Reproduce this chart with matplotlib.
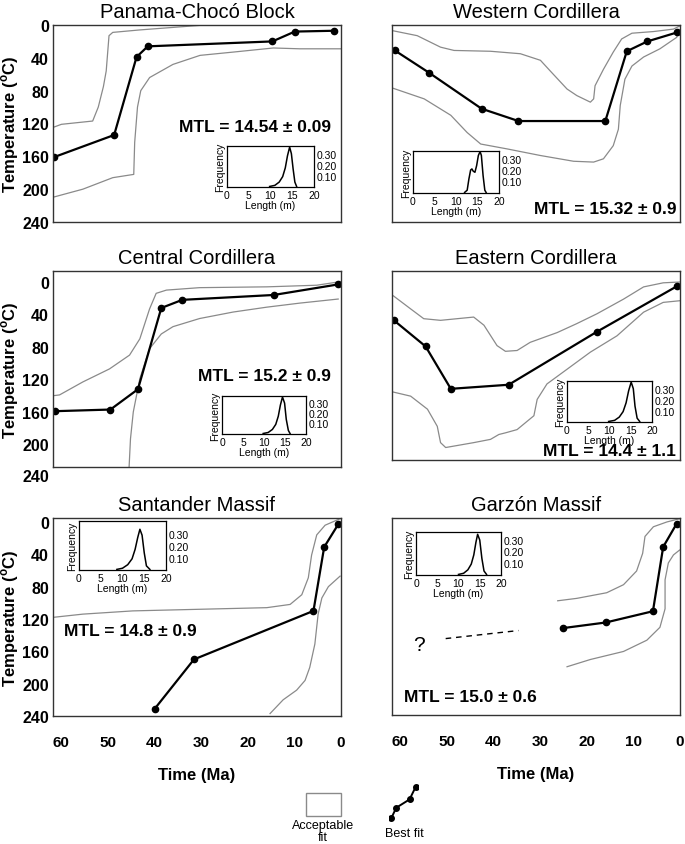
import matplotlib.pyplot as plt
from matplotlib.patches import Rectangle

W, H = 685, 845

# -------- DATA (time in Ma, temperature in C) --------

panama_fit_time = [61.5, 48.6, 43.8, 41.4, 14.7, 9.9, 1.4]
panama_fit_temp = [161, 134, 39, 26, 20, 8, 7]
panama_upper_time = [61.8, 59.9, 53.2, 52.0, 50.9, 50.3, 49.7, 48.9, 43.1, 29.2]
panama_upper_temp = [125, 121, 117, 100, 75, 56, 13, 9, 6, 0]
panama_lower_time = [61.8, 55.3, 48.9, 44.4, 44.2, 43.6, 42.9, 41.0, 36.0, 30.2, 23.1, 14.5, 8.8, 0]
panama_lower_temp = [210, 200, 186, 182, 143, 100, 80, 64, 48, 37, 33, 28, 29, 29]
panama_len = [9.8, 11.0, 12.0, 12.8, 13.4, 13.9, 14.4, 14.8, 15.2, 15.6, 16.0]
panama_freq = [0, 0.01, 0.04, 0.09, 0.17, 0.28, 0.36, 0.30, 0.16, 0.04, 0]

western_fit_time = [61.1, 53.8, 42.5, 34.6, 16.0, 11.4, 7.0, 0.6]
western_fit_temp = [31, 58, 102, 117, 117, 32, 20, 9]
western_upper_time = [61.5, 56.3, 51.3, 48.4, 40.6, 34.2, 29.9, 27.8, 24.2, 22.1, 19.2, 18.5,
                      18.2, 16.4, 14.3, 12.5, 10.3, 5.7, 1.4, 0]
western_upper_temp = [7, 13, 27, 31, 32, 35, 43, 56, 78, 86, 94, 90, 74, 54, 33, 17, 10, 8, 5, 1]
western_lower_time = [61.5, 54.8, 49.1, 45.6, 42.7, 37.0, 29.9, 22.8, 18.5, 16.4, 14.3, 13.2,
                      12.8, 11.8, 10.3, 7.8, 4.3, 0.7, 0.4]
western_lower_temp = [77, 90, 110, 131, 145, 151, 159, 166, 167, 163, 147, 127, 98, 66, 50, 39, 29, 15, 9]
western_len = [12.0, 12.6, 13.0, 13.4, 13.7, 14.0, 14.4, 14.8, 15.2, 15.6, 15.9, 16.3, 16.7, 17.0]
western_freq = [0, 0.02, 0.12, 0.20, 0.21, 0.19, 0.18, 0.24, 0.33, 0.365, 0.33, 0.15, 0.02, 0]

central_fit_time = [61.2, 49.4, 43.5, 38.5, 34.0, 14.4, 0.6]
central_fit_temp = [159, 157, 132, 32, 22, 16, 3]
central_upper_time = [61.7, 60.3, 55.3, 49.6, 45.3, 43.1, 41.0, 39.6, 37.4, 30.3, 15.9, 5.2, 0.6]
central_upper_temp = [140, 139, 123, 107, 90, 70, 33, 14, 10, 7, 6, 4, 0]
central_lower_time = [45.4, 45.1, 44.5, 43.1, 41.0, 38.5, 36.0, 30.3, 23.1, 15.9, 8.8, 0.6]
central_lower_temp = [228, 193, 160, 119, 82, 64, 55, 45, 37, 31, 26, 21]
central_len = [9.8, 11.0, 12.0, 12.8, 13.4, 13.9, 14.4, 14.9, 15.3, 15.8, 16.2]
central_freq = [0, 0.01, 0.04, 0.09, 0.17, 0.28, 0.36, 0.30, 0.14, 0.03, 0]

eastern_fit_time = [61.3, 54.5, 49.1, 36.7, 17.8, 0.6]
eastern_fit_temp = [47, 79, 131, 126, 61, 5]
eastern_upper_time = [61.4, 57.7, 54.9, 51.3, 44.2, 42.0, 39.2, 37.4, 34.9, 32.1, 26.3, 22.1,
                      17.8, 12.1, 7.8, 3.6, 0.1]
eastern_upper_temp = [17, 33, 45, 47, 43, 53, 78, 85, 84, 74, 62, 51, 39, 21, 6, 1, 0]
eastern_lower_time = [61.4, 57.7, 54.1, 52.0, 51.3, 50.2, 44.2, 40.6, 38.8, 37.4, 34.9, 31.3,
                      30.6, 28.5, 24.2, 19.2, 13.5, 7.8, 3.6, 0.1]
eastern_lower_temp = [135, 140, 156, 177, 197, 203, 197, 193, 187, 185, 181, 164, 144, 125,
                      107, 86, 66, 37, 25, 23]
eastern_len = [9.8, 11.2, 12.3, 13.2, 13.9, 14.5, 15.1, 15.6, 16.0, 16.5, 17.1]
eastern_freq = [0, 0.01, 0.04, 0.09, 0.17, 0.28, 0.36, 0.30, 0.14, 0.03, 0]

santander_fit_time = [39.9, 31.5, 5.9, 3.6, 0.6]
santander_fit_temp = [231, 170, 110, 31, 3]
santander_upper_time = [61.7, 55.3, 44.6, 30.3, 15.9, 10.9, 8.4, 7.0, 6.3, 5.2, 3.4, 0.2]
santander_upper_temp = [118, 114, 110, 108, 106, 102, 90, 69, 41, 16, 4, -4]
santander_lower_time = [15.2, 12.4, 9.5, 7.7, 6.7, 5.6, 4.9, 4.1, 2.7, 0.2]
santander_lower_temp = [237, 220, 208, 196, 180, 151, 114, 94, 80, 67]
santander_len = [8.7, 10.0, 11.2, 12.2, 12.9, 13.5, 14.0, 14.5, 15.0, 15.5, 16.3]
santander_freq = [0, 0.01, 0.04, 0.09, 0.17, 0.27, 0.34, 0.29, 0.14, 0.03, 0]

garzon_fit_time = [25.1, 15.9, 5.8, 3.6, 0.7]
garzon_fit_temp = [132, 125, 111, 31, 2]
garzon_dash_time = [50.2, 34.6]
garzon_dash_temp = [145, 135]
garzon_upper_time = [26.2, 22.1, 15.7, 12.1, 9.3, 8.0, 7.5, 5.7, 2.8, 0.1]
garzon_upper_temp = [98, 95, 88, 78, 61, 39, 18, 6, 0, -4]
garzon_lower_time = [24.2, 19.2, 12.1, 7.1, 4.3, 3.2, 3.2, 2.5, 1.4, 0.1]
garzon_lower_temp = [180, 171, 161, 147, 131, 108, 72, 51, 41, 35]
garzon_len = [10.0, 11.2, 12.2, 13.0, 13.6, 14.1, 14.5, 15.0, 15.5, 16.0, 16.6]
garzon_freq = [0, 0.01, 0.04, 0.09, 0.17, 0.28, 0.35, 0.30, 0.14, 0.03, 0]

time_ticks = [60, 50, 40, 30, 20, 10, 0]
temp_ticks = [0, 40, 80, 120, 160, 200, 240]
len_ticks = [0, 5, 10, 15, 20]
freq_ticks = [0.10, 0.20, 0.30]

# legend glyph for the best fit line
legend_icon_x = [0, 0.2, 0.75, 1.0]
legend_icon_y = [0, 0.33, 0.6, 1.0]

plt.rcParams['font.family'] = ['Liberation Sans', 'DejaVu Sans']

GRAY = '#8a8a8a'
FRAME = '#333333'

fig = plt.figure(figsize=(W / 100, H / 100), dpi=100)


def px_axes(x0, y0, x1, y1):
    return fig.add_axes([x0 / W, 1 - y1 / H, (x1 - x0) / W, (y1 - y0) / H])


def panel(box, ylim, title, fit, upper, lower, left=False, bottom=False):
    ax = px_axes(*box)
    ax.plot(upper[0], upper[1], color=GRAY, lw=0.9)
    ax.plot(lower[0], lower[1], color=GRAY, lw=0.9)
    ax.plot(fit[0], fit[1], color='black', lw=1.6, marker='o', ms=4.5)
    ax.set_xlim(61.7, 0)
    ax.set_ylim(*ylim)
    for s in ax.spines.values():
        s.set_color(FRAME)
        s.set_linewidth(1.0)
    ax.set_title(title, fontsize=14.5, pad=6)
    ax.tick_params(length=0)
    if left:
        inside = [t for t in temp_ticks if min(ylim) <= t <= max(ylim)]
        ax.set_yticks(inside)
        ax.set_yticklabels([str(t) for t in inside], fontsize=11.5, fontweight='bold')
        ax.tick_params(axis='y', pad=3)
        for t in temp_ticks:
            if t not in inside:
                ax.annotate(str(t), xy=(0, t), xycoords=('axes fraction', 'data'),
                            xytext=(-3, 0), textcoords='offset points', ha='right',
                            va='center', fontsize=11.5, fontweight='bold',
                            annotation_clip=False)
        ax.set_ylabel(r'Temperature ($^{\mathregular{o}}$C)', fontsize=12,
                      fontweight='bold')
        ax.yaxis.set_label_coords((21 - box[0]) / (box[2] - box[0]), 0.5)
    else:
        ax.set_yticks([])
    if bottom:
        ax.set_xticks(time_ticks)
        ax.set_xticklabels([str(t) for t in time_ticks], fontsize=11, fontweight='bold')
        ax.tick_params(axis='x', pad=14)
        ax.set_xlabel('Time (Ma)', fontsize=12, fontweight='bold', labelpad=13)
    else:
        ax.set_xticks([])
    return ax


def inset(box, lengths, freqs, top=0.37):
    ia = px_axes(*box)
    ia.plot(lengths, freqs, color='black', lw=1.1)
    ia.set_xlim(0, 20)
    ia.set_ylim(-0.005, top)
    ia.set_xticks(len_ticks)
    ia.set_xticklabels([str(t) for t in len_ticks], fontsize=7.5)
    ia.set_yticks(freq_ticks)
    ia.set_yticklabels(['%.2f' % f for f in freq_ticks], fontsize=7.5)
    ia.yaxis.tick_right()
    ia.tick_params(length=0, pad=2)
    ia.set_xlabel('Length (m)', fontsize=7.5, labelpad=0)
    ia.set_ylabel('Frequency', fontsize=7.5, labelpad=1)
    ia.yaxis.set_label_position('left')
    for s in ia.spines.values():
        s.set_linewidth(0.9)
    return ia


def mtl(x, y, text, ha):
    fig.text(x / W, 1 - y / H, text, ha=ha, va='center', fontsize=12.5, fontweight='bold')


# -------- PANELS --------

panel((53, 26, 341, 223), (240, 0), 'Panama-Chocó Block',
      (panama_fit_time, panama_fit_temp), (panama_upper_time, panama_upper_temp),
      (panama_lower_time, panama_lower_temp), left=True)
inset((227, 147, 314, 188), panama_len, panama_freq)
mtl(331, 127, 'MTL = 14.54 ± 0.09', 'right')

panel((392, 26, 680, 223), (240, 0), 'Western Cordillera',
      (western_fit_time, western_fit_temp), (western_upper_time, western_upper_temp),
      (western_lower_time, western_lower_temp))
inset((413, 152, 499, 194), western_len, western_freq)
mtl(676, 210, 'MTL = 15.32 ± 0.9', 'right')

panel((53, 272, 341, 468), (227.7, -13.5), 'Central Cordillera',
      (central_fit_time, central_fit_temp), (central_upper_time, central_upper_temp),
      (central_lower_time, central_lower_temp), left=True)
inset((222, 397, 306, 435), central_len, central_freq)
mtl(331, 377, 'MTL = 15.2 ± 0.9', 'right')

panel((392, 272, 680, 461), (218.3, -13.5), 'Eastern Cordillera',
      (eastern_fit_time, eastern_fit_temp), (eastern_upper_time, eastern_upper_temp),
      (eastern_lower_time, eastern_lower_temp))
inset((567, 382, 652, 423), eastern_len, eastern_freq)
mtl(676, 452, 'MTL = 14.4 ± 1.1', 'right')

panel((53, 519, 341, 717), (240, -4.9), 'Santander Massif',
      (santander_fit_time, santander_fit_temp), (santander_upper_time, santander_upper_temp),
      (santander_lower_time, santander_lower_temp), left=True, bottom=True)
inset((79, 522, 166, 571), santander_len, santander_freq, top=0.41)
mtl(64, 632, 'MTL = 14.8 ± 0.9', 'left')

gax = panel((392, 519, 680, 716), (240, -4.9), 'Garzón Massif',
            (garzon_fit_time, garzon_fit_temp), (garzon_upper_time, garzon_upper_temp),
            (garzon_lower_time, garzon_lower_temp), bottom=True)
gax.plot(garzon_dash_time, garzon_dash_temp, color='black', lw=1.0, dashes=(4, 3.5))
gax.text(55.9, 152, '?', ha='center', va='center', fontsize=15)
inset((416, 533, 501, 576), garzon_len, garzon_freq)
mtl(404, 698, 'MTL = 15.0 ± 0.6', 'left')

# -------- LEGEND --------

fig.add_artist(Rectangle((306 / W, 1 - 817 / H), 35 / W, 23 / H,
                         transform=fig.transFigure, facecolor='white',
                         edgecolor=GRAY, lw=1.0))
fig.text(323 / W, 1 - 832 / H, 'Acceptable\nfit', ha='center', va='center',
         fontsize=9, linespacing=0.95)

lax = px_axes(389, 785, 418, 822)
lax.plot(legend_icon_x, legend_icon_y, color='black', lw=1.4, marker='o', ms=4)
lax.set_xlim(-0.1, 1.1)
lax.set_ylim(-0.1, 1.1)
lax.axis('off')
fig.text(404 / W, 1 - 834 / H, 'Best fit', ha='center', va='center', fontsize=9)

plt.savefig('out.png', dpi=100)
